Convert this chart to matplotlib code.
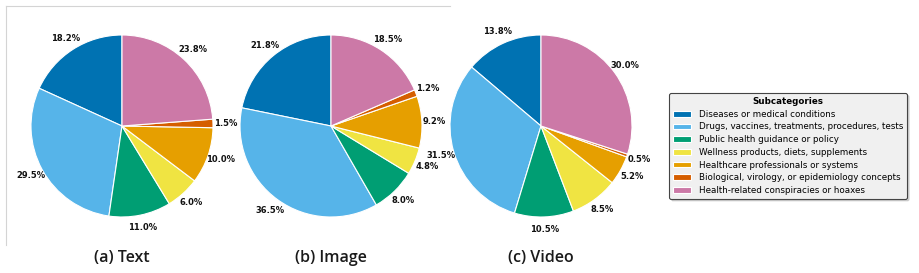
import matplotlib
matplotlib.use("Agg")
import matplotlib.pyplot as plt
from matplotlib.lines import Line2D

plt.rcParams.update({
    "font.family": "DejaVu Sans",
    "figure.facecolor": "white",
})

categories = [
    "Diseases or medical conditions",
    "Drugs, vaccines, treatments, procedures, tests",
    "Public health guidance or policy",
    "Wellness products, diets, supplements",
    "Healthcare professionals or systems",
    "Biological, virology, or epidemiology concepts",
    "Health-related conspiracies or hoaxes",
]
text_share = [18.2, 29.5, 11.0, 6.0, 10.0, 1.5, 23.8]
image_share = [21.8, 36.5, 8.0, 4.8, 9.2, 1.2, 18.5]
video_share = [13.8, 31.5, 10.5, 8.5, 5.2, 0.5, 30.0]
captions = ["(a) Text", "(b) Image", "(c) Video"]

COLORS = ["#0072B2", "#56B4E9", "#009E73", "#F0E442",
          "#E69F00", "#D55E00", "#CC79A7"]

W, H = 920, 273
fig = plt.figure(figsize=(W / 100, H / 100), dpi=100)

centers = [122, 331, 541]
cy = 126
r = 91

wedges = None
for cx, vals, cap in zip(centers, [text_share, image_share, video_share], captions):
    ax = fig.add_axes([(cx - r) / W, (H - cy - r) / H, 2 * r / W, 2 * r / H])
    w, _, autotexts = ax.pie(
        vals, colors=COLORS, startangle=90, counterclock=True,
        autopct=lambda p: f"{p:.1f}%", pctdistance=1.14,
        wedgeprops={"edgecolor": "white", "linewidth": 0.8},
    )
    for at in autotexts:
        at.set_fontsize(6.0)
        at.set_fontweight("bold")
        at.set_color("#111111")
    ax.set_xlim(-1, 1)
    ax.set_ylim(-1, 1)
    ax.set_aspect("auto")
    fig.text(cx / W, (H - 258) / H, cap, ha="center", va="center",
             fontsize=11.5, family="Open Sans", fontweight="semibold", color="#1a1a1a")
    wedges = w

# faint subfigure frame lines
fig.add_artist(Line2D([6 / W, 450 / W], [(H - 6) / H, (H - 6) / H],
                      color="#d4d4d4", linewidth=0.8, transform=fig.transFigure))
fig.add_artist(Line2D([6 / W, 6 / W], [(H - 6) / H, (H - 245) / H],
                      color="#d4d4d4", linewidth=0.8, transform=fig.transFigure))

leg = fig.legend(
    wedges, categories, title="Subcategories",
    loc="center left", bbox_to_anchor=(665 / W, (H - 146) / H),
    fontsize=6.3, title_fontproperties={"weight": "bold", "size": 6.3},
    frameon=True, fancybox=True, shadow={"alpha": 0.2, "ox": 1.5, "oy": -1.5},
    handlelength=2.0, handleheight=0.6, handletextpad=0.9,
    labelspacing=0.42, borderpad=0.45,
)
leg.get_frame().set_facecolor("#f0f0f0")
leg.get_frame().set_edgecolor("#444444")
leg.get_frame().set_linewidth(0.8)

fig.savefig("out.png", dpi=100, facecolor="white")
